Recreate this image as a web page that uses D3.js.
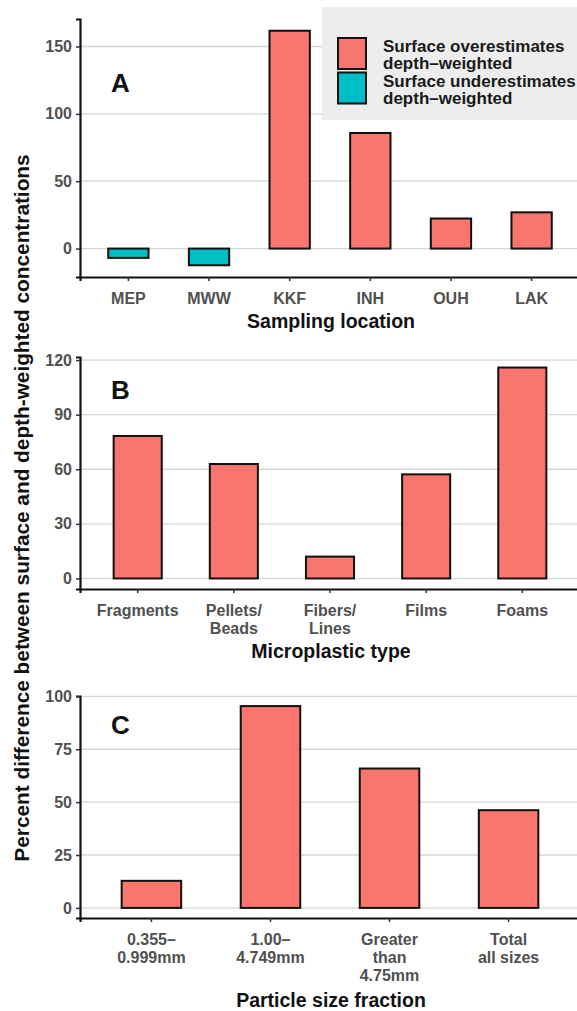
<!DOCTYPE html>
<html>
<head>
<meta charset="utf-8">
<script src="https://cdn.jsdelivr.net/npm/d3@7"></script>
<style>
    body { margin: 0; background: #fff; }
    svg { display: block; font-family: "Liberation Sans", Arial, sans-serif; }
</style>
</head>
<body>
<div id="chart"></div>
<script>

// Panel A - sampling location
const locations = ["MEP", "MWW", "KKF", "INH", "OUH", "LAK"];
const locationValues = [-6.9, -12.4, 161.7, 85.8, 22.3, 26.9];
const locationTicks = [0, 50, 100, 150];

// Panel B - microplastic type
const plasticTypes = ["Fragments", "Pellets/\nBeads", "Fibers/\nLines", "Films", "Foams"];
const plasticValues = [78.3, 62.9, 12.0, 57.2, 115.9];
const plasticTicks = [0, 30, 60, 90, 120];

// Panel C - particle size fraction
const sizeFractions = ["0.355–\n0.999mm", "1.00–\n4.749mm", "Greater\nthan\n4.75mm", "Total\nall sizes"];
const sizeValues = [12.8, 95.4, 65.9, 46.2];
const sizeTicks = [0, 25, 50, 75, 100];

const legendLabels = ["Surface overestimates\ndepth–weighted", "Surface underestimates\ndepth–weighted"];
const yTitle = "Percent difference between surface and depth-weighted concentrations";

const colors = {over: "#F8766D", under: "#00BFC4"};

const width = 577, height = 1011;
const plotLeft = 80, plotRight = 580;

const svg = d3.select("#chart").append("svg")
    .attr("width", width)
    .attr("height", height);

svg.append("rect")
    .attr("width", width)
    .attr("height", height)
    .attr("fill", "#fff");

function drawPanel(cfg) {
    let g = svg.append("g");

    // ggplot style 5% expansion on the value axis
    let lo = Math.min(0, d3.min(cfg.values)), hi = Math.max(0, d3.max(cfg.values));
    let pad = (hi - lo) * 0.05;

    let y = d3.scaleLinear()
        .domain([lo - pad, hi + pad])
        .range([cfg.bottom, cfg.top]);

    let x = d3.scaleBand()
        .domain(cfg.categories)
        .range([plotLeft, plotRight])
        .paddingInner(0.5)
        .paddingOuter(0.35);

    // gridlines
    g.selectAll(".grid")
        .data(cfg.ticks)
        .enter().append("line")
        .attr("x1", plotLeft)
        .attr("x2", plotRight)
        .attr("y1", d => y(d))
        .attr("y2", d => y(d))
        .attr("stroke", "#d6d6d6")
        .attr("stroke-width", 1.3);

    // bars
    g.selectAll(".bar")
        .data(cfg.categories.map((c, i) => ({cat: c, value: cfg.values[i]})))
        .enter().append("rect")
        .attr("x", d => x(d.cat))
        .attr("width", x.bandwidth())
        .attr("y", d => y(Math.max(0, d.value)))
        .attr("height", d => Math.abs(y(d.value) - y(0)))
        .attr("fill", d => d.value < 0 ? colors.under : colors.over)
        .attr("stroke", "#111")
        .attr("stroke-width", 2);

    // y axis
    let yAxis = g.append("g")
        .attr("transform", `translate(${plotLeft},0)`)
        .call(d3.axisLeft(y).tickValues(cfg.ticks).tickSizeOuter(0).tickSize(4).tickPadding(4));

    // x axis
    let xAxis = g.append("g")
        .attr("transform", `translate(0,${cfg.bottom})`)
        .call(d3.axisBottom(x).tickSizeOuter(0).tickSize(4).tickFormat(""));

    [yAxis, xAxis].forEach(a => {
        a.select(".domain").attr("stroke", "#111").attr("stroke-width", 2.2);
        a.selectAll(".tick line").attr("stroke", "#333").attr("stroke-width", 1.5);
    });

    yAxis.selectAll(".tick text")
        .attr("fill", "#505050")
        .attr("font-size", "16px")
        .attr("font-weight", "bold");

    // multi line category labels
    cfg.categories.forEach(c => {
        let lines = c.split("\n");
        let t = g.append("text")
            .attr("text-anchor", "middle")
            .attr("fill", "#505050")
            .attr("font-size", "16px")
            .attr("font-weight", "bold");
        lines.forEach((l, i) => {
            t.append("tspan")
                .attr("x", x(c) + x.bandwidth() / 2)
                .attr("y", cfg.bottom + 27 + i * 18)
                .text(l);
        });
    });

    // axis title
    g.append("text")
        .attr("x", 331)
        .attr("y", cfg.titleY)
        .attr("text-anchor", "middle")
        .attr("font-size", "19.5px")
        .attr("font-weight", "bold")
        .attr("fill", "#111")
        .text(cfg.title);

    // panel letter
    g.append("text")
        .attr("x", 111)
        .attr("y", cfg.letterY)
        .attr("font-size", "26px")
        .attr("font-weight", "bold")
        .attr("fill", "#111")
        .text(cfg.letter);
}

drawPanel({
    categories: locations, values: locationValues, ticks: locationTicks,
    top: 19, bottom: 277, title: "Sampling location", titleY: 328,
    letter: "A", letterY: 91.5
});

drawPanel({
    categories: plasticTypes, values: plasticValues, ticks: plasticTicks,
    top: 357, bottom: 589, title: "Microplastic type", titleY: 658,
    letter: "B", letterY: 399
});

drawPanel({
    categories: sizeFractions, values: sizeValues, ticks: sizeTicks,
    top: 696, bottom: 918, title: "Particle size fraction", titleY: 1007,
    letter: "C", letterY: 734
});

// legend
let legend = svg.append("g");

legend.append("rect")
    .attr("x", 322)
    .attr("y", 7)
    .attr("width", 260)
    .attr("height", 113)
    .attr("fill", "#ededed");

legendLabels.forEach((lab, i) => {
    let top = 38 + i * 34.5;
    legend.append("rect")
        .attr("x", 338)
        .attr("y", top)
        .attr("width", 28)
        .attr("height", 31)
        .attr("fill", i === 0 ? colors.over : colors.under)
        .attr("stroke", "#111")
        .attr("stroke-width", 2);

    let t = legend.append("text")
        .attr("font-size", "17px")
        .attr("font-weight", "bold")
        .attr("fill", "#1a1a1a");
    lab.split("\n").forEach((l, j) => {
        t.append("tspan")
            .attr("x", 383)
            .attr("y", top + 14 + j * 17)
            .text(l);
    });
});

// shared y title
svg.append("text")
    .attr("transform", "translate(29,508) rotate(-90)")
    .attr("text-anchor", "middle")
    .attr("font-size", "20.8px")
    .attr("font-weight", "bold")
    .attr("fill", "#111")
    .text(yTitle);

</script>
</body>
</html>
